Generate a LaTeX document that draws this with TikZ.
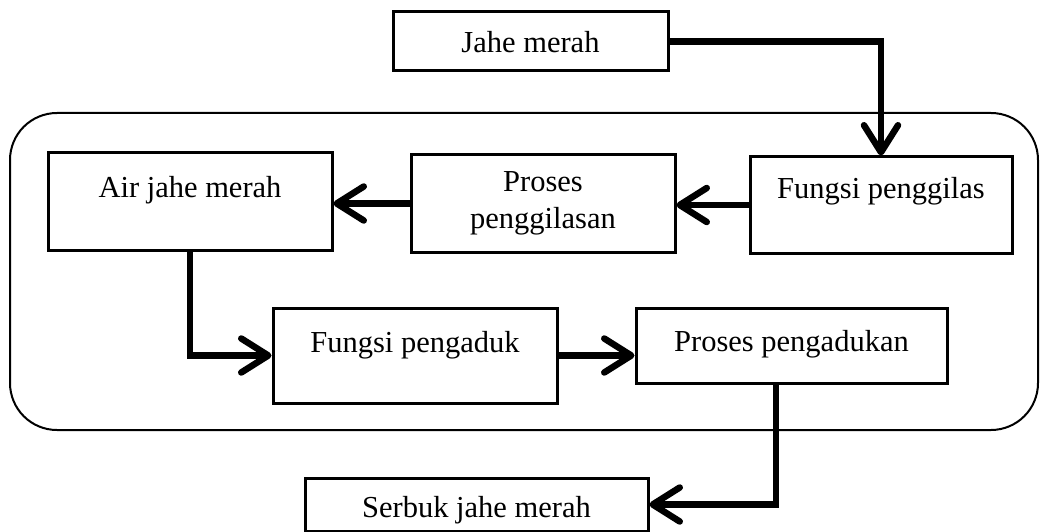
\documentclass[tikz,border=0pt]{standalone}
\usepackage{fontspec}
\setmainfont{Liberation Serif}
\usetikzlibrary{arrows.meta}
\begin{document}
\begin{tikzpicture}[x=1pt,y=-1pt,
    box/.style={draw,line width=3pt,inner sep=0pt,font=\fontsize{30.5}{37}\selectfont},
    flow/.style={line width=6.5pt,-{Straight Barb[length=27pt,width=34pt,round]}}]
  \useasboundingbox (0,0) rectangle (1042,532);
  % the device
  \draw[line width=2pt,rounded corners=47pt] (10,113) rectangle (1038,430);
  \node[box,minimum width=275pt,text height=41pt,text depth=18pt] (jahe) at (530.5,41.5) {Jahe merah};
  \node[box,minimum width=262pt,text height=41pt,text depth=55pt] (fgilas) at (881,205) {Fungsi penggilas};
  \node[box,align=center,minimum width=264pt,minimum height=97pt] (pgilas) at (543,203.5) {Proses\\penggilasan};
  \node[box,minimum width=284pt,text height=44pt,text depth=53pt] (air) at (190,201.5) {Air jahe merah};
  \node[box,minimum width=284pt,text height=44pt,text depth=51pt] (faduk) at (415,355.5) {Fungsi pengaduk};
  \node[box,minimum width=311pt,text height=43pt,text depth=32pt] (paduk) at (791.5,345.5) {Proses pengadukan};
  \node[box,minimum width=343pt,text height=39pt,text depth=14pt] (serbuk) at (476.5,504.5) {Serbuk jahe merah};
  % flow
  \draw[flow] (jahe.east) -| (fgilas.north);
  \draw[flow] (fgilas.west) -- (pgilas.east |- fgilas.west);
  \draw[flow] (pgilas.west) -- (air.east |- pgilas.west);
  \draw[flow] (air.south) |- (faduk.west);
  \draw[flow] (faduk.east) -- (paduk.west |- faduk.east);
  \draw[flow] ([xshift=-15.5pt]paduk.south) |- (serbuk.east);
\end{tikzpicture}
\end{document}
